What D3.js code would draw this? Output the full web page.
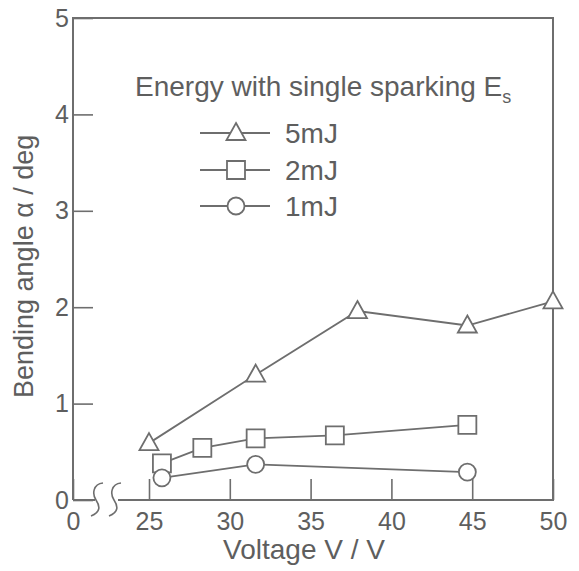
<!DOCTYPE html>
<html>
<head>
<meta charset="utf-8">
<script src="https://cdn.jsdelivr.net/npm/d3@7"></script>
<style>
body { margin: 0; background: #fff; }
text { font-family: "Liberation Sans", Arial, sans-serif; fill: #5e5e5e; }
</style>
</head>
<body>
<svg id="chart" width="579" height="571"></svg>
<script>
// values
const xTicks = [0, 25, 30, 35, 40, 45, 50];
const yTicks = [0, 1, 2, 3, 4, 5];
const legendTitle = 'Energy with single sparking E';
const seriesNames = ['5mJ', '2mJ', '1mJ'];
const seriesShapes = ['triangle', 'square', 'circle'];
const v5 = [25.0, 31.6, 37.9, 44.7, 50.0];
const a5 = [0.59, 1.30, 1.96, 1.81, 2.06];
const v2 = [25.8, 28.3, 31.6, 36.5, 44.7];
const a2 = [0.38, 0.54, 0.64, 0.67, 0.78];
const v1 = [25.8, 31.6, 44.7];
const a1 = [0.23, 0.37, 0.29];

const ink = "#6e6e6e";
const svg = d3.select("#chart");

// axis has a break between 0 and 25
const x = d3.scaleLinear().domain([0, 25, 50]).range([73, 149, 553]);
const y = d3.scaleLinear().domain([0, 5]).range([500, 18]);

// box
const box = svg.append("g").attr("stroke", ink).attr("stroke-width", 2).attr("fill", "none");
box.append("path").attr("d", `M${x(0)},${y(0)}V${y(5)}H${x(50)}V${y(0)}H${x(0) + 45}`);
box.append("path").attr("d", `M${x(0)},${y(0)}H${x(0) + 22}`);
// break marks
[96, 114].forEach(bx => {
	const y0 = y(0);
	box.append("path")
		.attr("stroke-width", 1.6)
		.attr("d", `M${bx + 7},${y0 - 17} C${bx - 3},${y0 - 16} ${bx - 4},${y0 - 6} ${bx},${y0} S${bx + 5},${y0 + 12} ${bx - 5},${y0 + 16}`);
});

const yAxis = svg.append("g")
	.attr("transform", `translate(${x(0)},0)`)
	.call(d3.axisLeft(y).tickValues(yTicks).tickSize(-20).tickPadding(4).tickFormat(d3.format("d")));
yAxis.select(".domain").remove();
yAxis.selectAll("line").attr("stroke", ink).attr("stroke-width", 1.6);
yAxis.selectAll("text").attr("font-size", 25).attr("fill", "#5e5e5e");

const xAxis = svg.append("g")
	.attr("transform", `translate(0,${y(0)})`)
	.call(d3.axisBottom(x).tickValues(xTicks).tickSize(-21).tickPadding(12).tickFormat(d3.format("d")));
xAxis.select(".domain").remove();
xAxis.selectAll("line").attr("stroke", ink).attr("stroke-width", 1.6);
xAxis.selectAll("text").attr("font-size", 25).attr("fill", "#5e5e5e");

svg.append("text")
	.attr("transform", "translate(33,398) rotate(-90)")
	.attr("font-size", 27)
	.text("Bending angle α / deg");

svg.append("text")
	.attr("x", 304).attr("y", 559)
	.attr("text-anchor", "middle")
	.attr("font-size", 28)
	.text("Voltage V / V");

const markerPath = (shape) => {
	if (shape === 'triangle') return "M0,-10L9.5,7L-9.5,7Z";
	if (shape === 'square') return "M-9,-9H9V9H-9Z";
	return d3.arc()({innerRadius: 0, outerRadius: 8.5, startAngle: 0, endAngle: 2 * Math.PI});
};

const series = [
	{v: v5, a: a5},
	{v: v2, a: a2},
	{v: v1, a: a1}
];
const line = d3.line().x(d => x(d[0])).y(d => y(d[1]));

series.forEach((s, i) => {
	const pts = s.v.map((v, j) => [v, s.a[j]]);
	svg.append("path").datum(pts)
		.attr("d", line)
		.attr("fill", "none").attr("stroke", ink).attr("stroke-width", 1.8);
	svg.append("g").selectAll("path").data(pts).join("path")
		.attr("transform", d => `translate(${x(d[0])},${y(d[1])})`)
		.attr("d", markerPath(seriesShapes[i]))
		.attr("fill", "#fff").attr("stroke", ink).attr("stroke-width", 1.8);
});

// legend
const title = svg.append("text").attr("x", 135).attr("y", 96).attr("font-size", 28).text(legendTitle);
title.append("tspan").attr("font-size", 18).attr("dy", 7).text("s");

const rowY = [133, 170, 206];
seriesNames.forEach((name, i) => {
	const g = svg.append("g").attr("transform", `translate(0,${rowY[i]})`);
	g.append("line").attr("x1", 200).attr("x2", 270)
		.attr("stroke", ink).attr("stroke-width", 1.8);
	g.append("path").attr("transform", "translate(236,0)")
		.attr("d", markerPath(seriesShapes[i]))
		.attr("fill", "#fff").attr("stroke", ink).attr("stroke-width", 1.8);
	g.append("text").attr("x", 285).attr("y", 10).attr("font-size", 28).text(name);
});
</script>
</body>
</html>
